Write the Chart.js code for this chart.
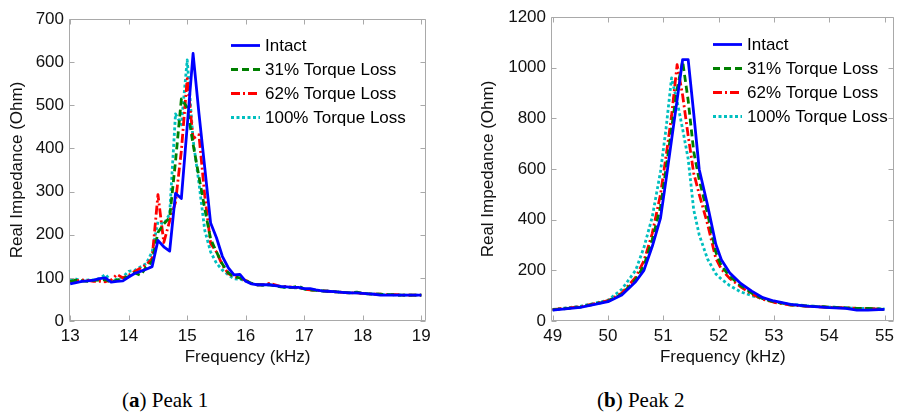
<!DOCTYPE html>
<html>
<head>
<meta charset="utf-8">
<script src="https://cdn.jsdelivr.net/npm/chart.js@4/dist/chart.umd.min.js"></script>
<style>
  html, body { margin: 0; padding: 0; background: #fff; width: 899px; height: 415px; overflow: hidden; }
  canvas { position: absolute; top: 0; }
  #peak1 { left: 0; }
  #peak2 { left: 471px; }
  .cap { position: absolute; top: 390px; font: 21px 'Liberation Serif', 'Times New Roman', serif; line-height: 21px; color: #000; white-space: nowrap; }
</style>
</head>
<body>
<canvas id="peak1" width="440" height="380"></canvas>
<canvas id="peak2" width="428" height="380"></canvas>
<div class="cap" style="left:122px">(<b>a</b>) Peak 1</div>
<div class="cap" style="left:597px">(<b>b</b>) Peak 2</div>
<script>
// ---- Peak 1: 13–19 kHz sweep ----
const freq1 = [13.0, 13.1, 13.2, 13.3, 13.4, 13.5, 13.6, 13.7, 13.8, 13.9,
               14.0, 14.1, 14.2, 14.3, 14.4, 14.5, 14.6, 14.7, 14.8, 14.9,
               15.0, 15.1, 15.2, 15.3, 15.4, 15.5, 15.6, 15.7, 15.8, 15.9,
               16.0, 16.1, 16.2, 16.3, 16.4, 16.5, 16.6, 16.7, 16.8, 16.9,
               17.0, 17.1, 17.2, 17.3, 17.4, 17.5, 17.6, 17.7, 17.8, 17.9,
               18.0, 18.1, 18.2, 18.3, 18.4, 18.5, 18.6, 18.7, 18.8, 18.9, 19.0];
const intact1 = [86, 89, 92, 93, 95, 98, 100, 90, 92, 93,
                 102, 110, 115, 120, 126, 187, 172, 162, 296, 284,
                 452, 620, 482, 355, 227, 193, 150, 124, 107, 108,
                 92, 86, 84, 84, 84, 82, 80, 79, 78, 78,
                 75, 75, 72, 70, 69, 68, 67, 66, 65, 65,
                 64, 63, 62, 60, 60, 60, 60, 60, 60, 60, 60];
const loss31_1 = [92, 95, 93, 92, 94, 95, 96, 90, 95, 98,
                  103, 112, 106, 125, 138, 205, 225, 240, 370, 515,
                  495, 410, 335, 260, 190, 160, 132, 112, 103, 100,
                  94, 87, 84, 83, 84, 82, 79, 78, 78, 81,
                  74, 72, 71, 70, 69, 68, 67, 66, 65, 67,
                  64, 63, 62, 62, 61, 61, 60, 60, 60, 60, 60];
const loss62_1 = [90, 93, 95, 94, 92, 92, 91, 95, 108, 100,
                  106, 115, 122, 130, 145, 293, 182, 232, 275, 395,
                  562, 423, 432, 290, 180, 160, 130, 110, 103, 100,
                  94, 87, 84, 84, 87, 84, 80, 80, 78, 78,
                  74, 72, 71, 70, 69, 68, 67, 66, 65, 65,
                  64, 63, 62, 62, 61, 61, 61, 60, 60, 60, 60];
const loss100_1 = [95, 97, 93, 95, 95, 98, 108, 93, 97, 102,
                   115, 117, 125, 133, 160, 230, 225, 248, 480, 455,
                   605, 420, 320, 210, 160, 134, 118, 107, 98, 97,
                   93, 87, 84, 83, 84, 82, 79, 78, 77, 77,
                   74, 72, 71, 70, 69, 68, 67, 66, 65, 65,
                   64, 63, 62, 62, 61, 61, 60, 60, 60, 60, 60];
const xTicks1 = [13, 14, 15, 16, 17, 18, 19];
const yTicks1 = [0, 100, 200, 300, 400, 500, 600, 700];

// ---- Peak 2: 49–55 kHz sweep ----
const freq2 = [49.0, 49.5, 50.0, 50.25, 50.5, 50.65, 50.8, 50.95, 51.05, 51.15,
               51.25, 51.35, 51.45, 51.55, 51.65, 51.8, 51.95, 52.05, 52.2, 52.4,
               52.6, 52.8, 53.0, 53.3, 53.6, 54.0, 54.3, 54.5, 54.7, 55.0];
const intact2 = [43, 54, 76, 103, 155, 200, 294, 406, 557, 715,
                 873, 1032, 1032, 820, 598, 458, 303, 242, 190, 148,
                 118, 92, 79, 66, 59, 53, 50, 43, 43, 46];
const loss31_2 = [44, 55, 78, 106, 163, 218, 320, 450, 600, 760,
                  915, 1025, 871, 669, 557, 425, 272, 218, 176, 140,
                  110, 88, 76, 64, 59, 55, 52, 50, 50, 45];
const loss62_2 = [45, 56, 80, 110, 172, 237, 345, 500, 650, 810,
                  1012, 891, 731, 584, 500, 383, 247, 205, 168, 135,
                  106, 86, 74, 63, 58, 54, 52, 50, 49, 45];
const loss100_2 = [46, 58, 82, 125, 200, 290, 410, 590, 760, 960,
                   867, 757, 640, 439, 340, 245, 186, 165, 140, 115,
                   100, 88, 76, 66, 60, 55, 52, 50, 50, 48];
const xTicks2 = [49, 50, 51, 52, 53, 54, 55];
const yTicks2 = [0, 200, 400, 600, 800, 1000, 1200];

const seriesNames = ['Intact', '31% Torque Loss', '62% Torque Loss', '100% Torque Loss'];
const seriesStyles = [
  { color: '#0000ff', dash: [] },
  { color: '#008000', dash: [7, 4] },
  { color: '#ff0000', dash: [9, 3, 2, 3] },
  { color: '#00bfbf', dash: [3, 2.5] }
];

Chart.defaults.font.family = "'Liberation Sans', Arial, Helvetica, sans-serif";
Chart.defaults.font.size = 17;
Chart.defaults.color = '#111';

// Boxed axes with inward tick marks on all four sides, plus a borderless legend
const boxedAxes = {
  id: 'boxedAxes',
  afterDatasetsDraw(chart, args, opts) {
    const { ctx, chartArea: a, scales: { x, y } } = chart;
    const L = Math.round(a.left) + 0.5, R = Math.round(a.right) - 0.5;
    const T = Math.round(a.top) + 0.5, B = Math.round(a.bottom) - 0.5;
    const len = 5;
    ctx.save();
    ctx.strokeStyle = '#a9a9a9';
    ctx.lineWidth = 1;
    ctx.setLineDash([]);
    ctx.beginPath();
    x.ticks.forEach(t => {
      const p = Math.round(x.getPixelForValue(t.value)) + 0.5;
      ctx.moveTo(p, B); ctx.lineTo(p, B - len);
      ctx.moveTo(p, T); ctx.lineTo(p, T + len);
    });
    y.ticks.forEach(t => {
      const p = Math.round(y.getPixelForValue(t.value)) + 0.5;
      ctx.moveTo(L, p); ctx.lineTo(L + len, p);
      ctx.moveTo(R, p); ctx.lineTo(R - len, p);
    });
    ctx.rect(L, T, R - L, B - T);
    ctx.stroke();

    // legend
    const x0 = a.left + opts.dx, y0 = a.top + opts.dy;
    ctx.font = "17px 'Liberation Sans', Arial, sans-serif";
    ctx.textBaseline = 'middle';
    ctx.textAlign = 'left';
    chart.data.datasets.forEach((ds, i) => {
      const yy = Math.round(y0 + i * opts.gap) + 0.5;
      ctx.strokeStyle = ds.borderColor;
      ctx.lineWidth = ds.borderWidth;
      ctx.setLineDash(ds.borderDash || []);
      ctx.beginPath();
      ctx.moveTo(x0, yy);
      ctx.lineTo(x0 + 29, yy);
      ctx.stroke();
      ctx.setLineDash([]);
      ctx.fillStyle = '#000';
      ctx.fillText(ds.label, x0 + 34, yy + 1);
    });
    ctx.restore();
  }
};

function makeDatasets(freq, seriesList) {
  return seriesList.map((vals, i) => ({
    label: seriesNames[i],
    data: freq.map((f, k) => ({ x: f, y: vals[k] })),
    borderColor: seriesStyles[i].color,
    borderWidth: 2.8,
    borderDash: seriesStyles[i].dash,
    borderJoinStyle: 'round',
    pointRadius: 0,
    fill: false,
    tension: 0
  }));
}

function makeChart(id, cfg) {
  return new Chart(document.getElementById(id), {
    type: 'line',
    data: { datasets: makeDatasets(cfg.freq, cfg.series) },
    plugins: [boxedAxes],
    options: {
      responsive: false,
      animation: false,
      devicePixelRatio: 1,
      layout: { padding: { top: cfg.top, right: cfg.right, left: 0, bottom: 0 } },
      plugins: {
        legend: { display: false },
        tooltip: { enabled: false },
        boxedAxes: { dx: cfg.legendDx, dy: cfg.legendDy, gap: 23.9 }
      },
      scales: {
        x: {
          type: 'linear',
          min: cfg.xMin, max: cfg.xMax,
          afterBuildTicks: s => { s.ticks = cfg.xTicks.map(v => ({ value: v })); },
          afterFit: s => { s.height = 380 - 321; },
          ticks: { padding: 5, maxRotation: 0, autoSkip: false, callback: v => String(v) },
          grid: { display: false, drawTicks: false },
          border: { display: false },
          title: { display: true, text: 'Frequency (kHz)', padding: { top: 0, bottom: 12 }, color: '#111' }
        },
        y: {
          type: 'linear',
          min: 0, max: cfg.yMax,
          afterBuildTicks: s => { s.ticks = cfg.yTicks.map(v => ({ value: v })); },
          afterFit: s => { s.width = cfg.yWidth; },
          ticks: { padding: 5, autoSkip: false, callback: v => String(v) },
          grid: { display: false, drawTicks: false },
          border: { display: false },
          title: { display: true, text: 'Real Impedance (Ohm)', padding: { top: 6.7, bottom: 0 }, color: '#111' }
        }
      }
    }
  });
}

makeChart('peak1', {
  freq: freq1,
  series: [intact1, loss31_1, loss62_1, loss100_1],
  xMin: 12.98, xMax: 19.08, yMax: 700,
  xTicks: xTicks1, yTicks: yTicks1,
  top: 19, right: 14, yWidth: 69,
  legendDx: 162, legendDy: 26
});

makeChart('peak2', {
  freq: freq2,
  series: [intact2, loss31_2, loss62_2, loss100_2],
  xMin: 48.97, xMax: 55.18, yMax: 1200,
  xTicks: xTicks2, yTicks: yTicks2,
  top: 17, right: 1, yWidth: 80,
  legendDx: 162, legendDy: 27
});
</script>
</body>
</html>
